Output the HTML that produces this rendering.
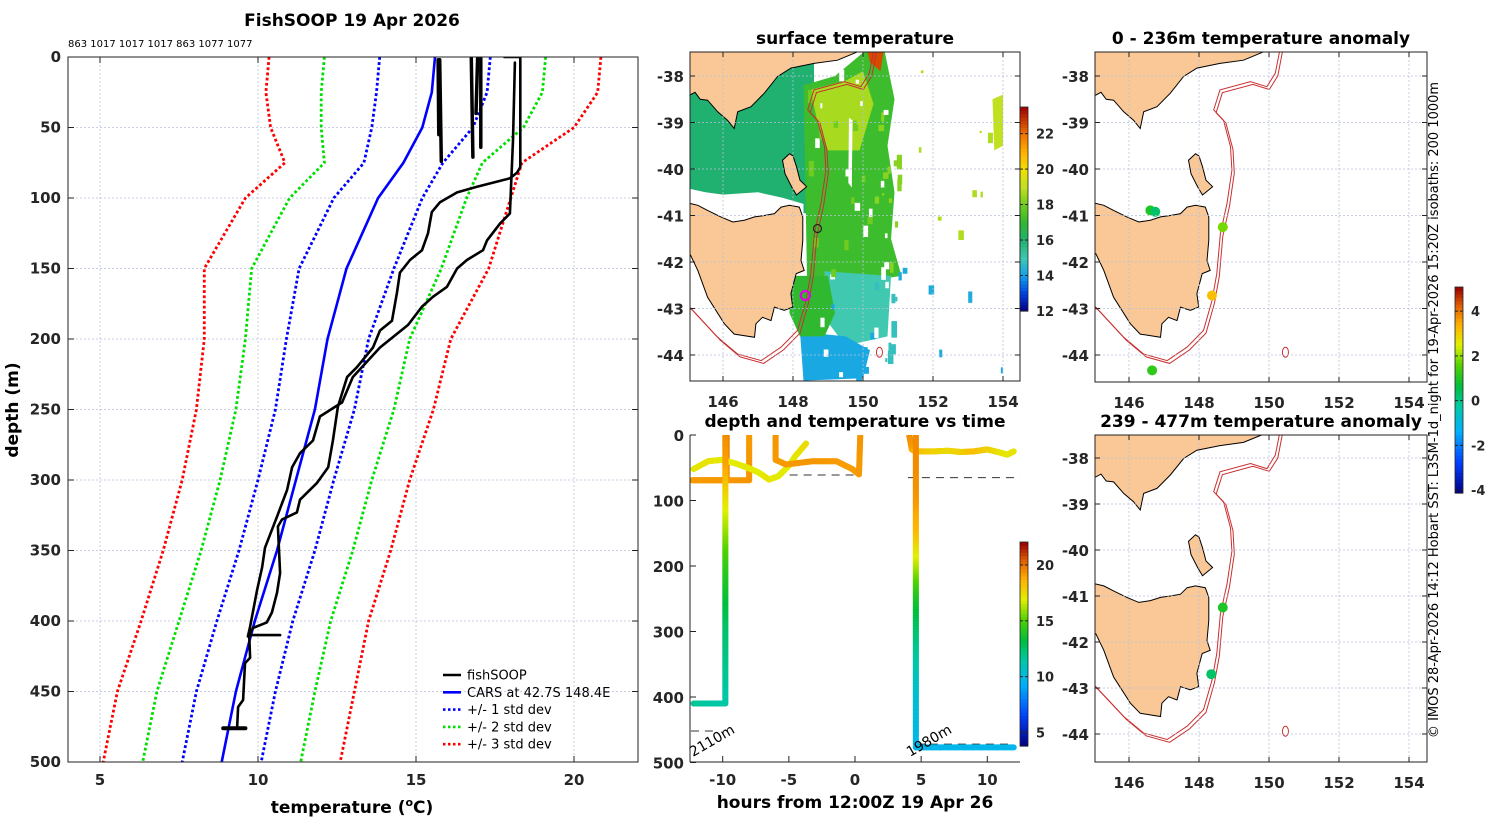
<!DOCTYPE html>
<html><head><meta charset="utf-8"><style>
html,body{margin:0;padding:0;background:#fff;}
svg{display:block;font-family:"DejaVu Sans","Liberation Sans",sans-serif;}
.tk{font-size:15px;font-weight:bold;fill:#262626;}
.ttl{font-size:17px;font-weight:bold;fill:#000;}
.lg{font-size:13px;fill:#000;}
</style></head><body>
<svg id="fig" width="1500" height="820" viewBox="0 0 1500 820" xmlns="http://www.w3.org/2000/svg">
<defs>
<clipPath id="cp1"><rect x="690" y="52" width="330" height="329"/></clipPath>
<clipPath id="cp2"><rect x="1095" y="52" width="332" height="330"/></clipPath>
<clipPath id="cp3"><rect x="1095" y="435" width="332" height="327"/></clipPath>
<clipPath id="cpP"><rect x="68" y="57" width="570" height="705"/></clipPath>
<clipPath id="cpT"><rect x="690" y="435" width="330" height="327"/></clipPath>
</defs>
<g id="root"></g>
</svg>
<script>
// ---------- profile data ----------
const profDepths=[0,25,50,75,100,125,150,175,200,250,300,350,400,450,500];
const carsMean=[15.6,15.5,15.2,14.6,13.8,13.3,12.8,12.5,12.2,11.8,11.2,10.6,9.9,9.3,8.85];
const carsSd=[1.75,1.75,1.6,1.25,1.4,1.45,1.5,1.4,1.3,1.25,1.2,1.2,1.2,1.25,1.25];
const fishL_d=[0,0,2,78,82,86,92,96,103,110,125,137,144,153,167,187,194,206,220,227,248,272,291,302,314,323,328,333,366,380,394,401,405,410,426,430,456,461,476];
const fishL_t=[17.8,18.3,18.3,18.3,18.2,17.97,16.93,16.3,15.76,15.5,15.38,15.19,14.81,14.49,14.4,14.24,13.86,13.64,13.13,12.82,12.53,12.37,12.22,11.87,11.33,11.23,10.76,10.63,10.7,10.6,10.44,10.28,9.84,9.72,9.75,9.59,9.53,9.37,9.34];
const fishR_d=[4,59,111,118,130,137,144,150,163,170,177,190,206,216,227,245,255,272,281,291,307,326,348,362,378,404,411];
const fishR_t=[18.13,18.07,17.97,17.66,17.25,17.12,16.61,16.3,15.98,15.54,15.19,14.75,13.86,13.45,13.0,12.66,11.96,11.74,11.33,11.08,10.92,10.6,10.22,10.13,9.97,9.75,9.68];
const shortProfiles=[{d:[2,74],t:[15.75,15.8]},{d:[2,55],t:[15.7,15.72]},{d:[1,71],t:[16.75,16.8]},{d:[1,64],t:[17.05,17.05]},{d:[1,40],t:[16.95,16.9]}];
const spike={d:[410,410],t:[9.7,10.7]};
const bottomBar={d:[476,476],t:[8.9,9.6]};
const topLabel="863 1017 1017 1017 863 1077 1077";
const xTicksP=[5,10,15,20];
const yTicksP=[0,50,100,150,200,250,300,350,400,450,500];
// ---------- time panel data ----------
const dive1Time=[-9.8,-9.8,-9.8,-9.8,-9.8,-9.8,-9.8,-9.8,-9.8];
const dive1Depth=[0,50,100,150,200,250,300,350,410];
const dive1Temp=[19.5,19,17.5,16,14.5,13.5,12.5,12,11.5];
const dive2Time=[4.6,4.6,4.6,4.6,4.6,4.6,4.6,4.6,4.6,4.6];
const dive2Depth=[0,50,100,150,200,250,300,350,400,477];
const dive2Temp=[19.5,19.5,19.3,18.5,16.5,14,12.5,11.5,10.5,9.8];
const bottom1Time=[-12.2,-9.8], bottom1Depth=[410,410], bottom1Temp=[11.8,11.5];
const bottom2Time=[4.6,12], bottom2Depth=[477,477], bottom2Temp=[9.8,9.8];
const surfYTime=[-12.2,-11.1,-10.1,-9.1,-8.1,-7.3,-6.5,-5.8,-5.0,-4.5,-3.7];
const surfYDepth=[52,40,38,43,50,57,68,63,47,32,13];
const surfYTemp=[17.2,17.3,17.2,17.0,17.2,17.0,17.3,17.1,17.0,17.2,17.5];
const surfO1Time=[-9.7,-9.7,-12.3,-8.0,-8.0];
const surfO1Depth=[0,69,69,69,0];
const surfO1Temp=[19.8,19.5,19.2,19.3,19.2];
const surfO2Time=[-6.0,-6.0,-5.2,-3.2,-1.4,-0.2,0.3,0.4];
const surfO2Depth=[0,38,45,40,40,52,60,0];
const surfO2Temp=[19.3,19.2,19.2,19.3,19.2,19.1,19.2,19.3];
const surf3Time=[4.1,4.3,4.6,6,7,8,9,10,11,11.5,12];
const surf3Depth=[0,22,25,25,24,26,25,22,27,30,25];
const surf3Temp=[19.5,19.2,18.5,17.8,17.6,17.8,18.4,17.9,17.4,17.2,17.3];
const dashTime=[[-12.4,-8],[-6,0.5],[4,12.6],[-12.4,-10.5],[4.6,12]];
const dashDepth=[70,61,65,452,472];
const xTicksT=[-10,-5,0,5,10];
const yTicksT=[0,100,200,300,400,500];
const cbTimeTicks=[5,10,15,20];
// ---------- map data ----------
const latTicks=[-38,-39,-40,-41,-42,-43,-44];
const lonTicks=[146,148,150,152,154];
const sstTicks=[12,14,16,18,20,22];
const anomTicks=[-4,-2,0,2,4];
const anomDots1Lon=[146.61,146.75,148.68,148.37,146.66];
const anomDots1Lat=[-40.89,-40.92,-41.25,-42.72,-44.33];
const anomDots1Val=[1.0,0.3,1.8,3.2,1.2];
const anomDots2Lon=[148.68,148.35];
const anomDots2Lat=[-41.25,-42.7];
const anomDots2Val=[1.0,0.3];

const tas=[[144.9,-40.74],[145.05,-40.74],[145.28,-40.78],[145.56,-40.89],[145.94,-41.03],[146.28,-41.14],[146.61,-41.1],[146.9,-41.03],[147.18,-41.0],[147.47,-40.96],[147.66,-40.82],[147.9,-40.78],[148.18,-40.82],[148.28,-41.03],[148.28,-41.53],[148.23,-41.97],[148.32,-42.18],[148.09,-42.25],[147.94,-42.68],[147.99,-42.97],[147.75,-43.04],[147.47,-42.97],[147.37,-43.26],[147.13,-43.19],[146.94,-43.33],[146.9,-43.62],[146.32,-43.55],[146.04,-43.33],[145.56,-42.76],[145.28,-42.18],[145.05,-41.82],[144.9,-41.82]];
const vic=[[144.9,-38.41],[145.05,-38.41],[145.2,-38.35],[145.35,-38.5],[145.56,-38.52],[145.85,-38.77],[146.13,-38.95],[146.32,-39.13],[146.42,-38.77],[146.8,-38.66],[147.18,-38.37],[147.56,-38.01],[147.94,-37.83],[148.6,-37.73],[149.27,-37.66],[149.75,-37.51],[149.94,-37.45],[149.94,-37.2],[144.9,-37.2]];
const flinders=[[147.9,-39.67],[148.0,-39.72],[148.1,-39.95],[148.2,-40.24],[148.39,-40.38],[148.1,-40.56],[147.96,-40.38],[147.77,-40.1],[147.7,-39.81]];
const kingIs=[[143.9,-39.6],[144.1,-39.6],[144.1,-40.1],[143.9,-40.1]];
const iso=[[150.32,-37.4],[150.18,-37.94],[149.94,-38.23],[149.47,-38.12],[148.6,-38.3],[148.42,-38.73],[148.7,-38.95],[148.9,-39.52],[148.94,-40.03],[148.8,-40.74],[148.61,-41.39],[148.51,-42.25],[148.37,-42.83],[148.13,-43.47],[147.66,-43.83],[147.09,-44.12],[146.42,-43.98],[145.85,-43.62],[145.05,-42.97],[144.9,-42.9]];
const sstRegions=[
 {v:16.0,p:[[144.9,-37.3],[148.6,-37.3],[148.6,-40.95],[144.9,-40.95]]},
 {v:99,p:[[144.9,-40.4],[145.5,-40.5],[146,-40.55],[147,-40.5],[147.7,-40.62],[148.3,-40.75],[148.3,-40.98],[144.9,-40.98]]},
 {v:17.2,p:[[148.3,-38.2],[149.2,-38.0],[150,-37.5],[150.6,-37.4],[150.9,-38.5],[150.7,-39.5],[150.9,-40.5],[150.8,-41.5],[151.1,-42.3],[150.2,-42.4],[148.4,-42.3]]},
 {v:18.7,p:[[148.5,-38.3],[149.5,-38.1],[150.0,-37.9],[150.3,-38.6],[149.9,-39.6],[149.0,-39.6],[148.7,-39.0]]},
 {v:15.0,p:[[148.9,-42.2],[150.8,-42.3],[150.7,-43.6],[149.5,-43.8],[148.9,-43.2]]},
 {v:14.2,p:[[148.2,-43.5],[149.5,-43.6],[150.2,-43.9],[150.0,-44.5],[148.3,-44.55]]},
 {v:17.0,p:[[147.9,-42.3],[149.0,-42.3],[149.2,-43.1],[148.9,-43.6],[148.2,-43.6],[147.9,-43.1]]},
 {v:22.5,p:[[150.1,-37.4],[150.6,-37.4],[150.5,-37.9],[150.2,-37.7]]},
 {v:19.0,p:[[153.7,-38.5],[154.0,-38.4],[154.0,-39.5],[153.75,-39.6]]},
 {v:99,p:[[149.6,-38.9],[149.7,-38.95],[149.68,-40.4],[149.58,-40.3]]},
 {v:99,p:[[145.3,-43.1],[146.0,-43.5],[146.9,-43.65],[147.6,-43.3],[148.0,-43.5],[147.8,-44.6],[144.9,-44.6],[144.9,-43.0]]}
];

// ---------- helpers ----------
const NS="http://www.w3.org/2000/svg";
const root=document.getElementById('root');
function el(tag,attrs,parent){const e=document.createElementNS(NS,tag);for(const k in attrs)e.setAttribute(k,attrs[k]);(parent||root).appendChild(e);return e;}
function mk(st){return function(t){t=Math.max(0,Math.min(1,t));for(let i=1;i<st.length;i++){if(t<=st[i][0]){const a=st[i-1],b=st[i];const f=(t-a[0])/(b[0]-a[0]);const c=a[1].map((v,j)=>Math.round(v+(b[1][j]-v)*f));return `rgb(${c[0]},${c[1]},${c[2]})`;}}const l=st[st.length-1][1];return `rgb(${l[0]},${l[1]},${l[2]})`;};}
const cmap=mk([[0,[0,0,128]],[0.15,[0,64,255]],[0.3,[0,176,255]],[0.42,[0,200,170]],[0.52,[0,190,60]],[0.62,[80,210,0]],[0.72,[225,240,0]],[0.82,[255,175,0]],[0.91,[225,95,0]],[1,[150,0,0]]]);
// SST colour scale 12..23.5
const sstStops=[[12,[0,0,128]],[13,[0,64,224]],[14,[16,160,240]],[15,[64,200,176]],[16,[32,176,112]],[17,[48,184,48]],[18,[112,204,32]],[19,[192,224,32]],[20,[240,224,0]],[21,[255,176,0]],[22,[240,112,0]],[23.5,[160,0,0]]];
const sstCmap=mk(sstStops.map(s=>[(s[0]-12)/11.5,s[1]]));
function text(x,y,s,cls,anchor,parent,extra){const t=el('text',Object.assign({x:x,y:y,class:cls,'text-anchor':anchor||'middle'},extra||{}),parent);t.textContent=s;return t;}

// ================= PROFILE PANEL =================
const px=t=>100+(t-5)*31.6, py=d=>57+d*1.41;
const gP=el('g',{});


yTicksP.forEach(d=>{el('line',{x1:68,x2:638,y1:py(d),y2:py(d),stroke:'#b8c0dc','stroke-width':0.8,'stroke-dasharray':'2,2'},gP);
 el('line',{x1:68,x2:74,y1:py(d),y2:py(d),stroke:'#222'},gP);el('line',{x1:632,x2:638,y1:py(d),y2:py(d),stroke:'#222'},gP);
 const t=text(61,py(d)+5,String(d),'tk','end',gP);});
xTicksP.forEach(v=>{el('line',{x1:px(v),x2:px(v),y1:57,y2:762,stroke:'#b8c0dc','stroke-width':0.8,'stroke-dasharray':'2,2'},gP);
 el('line',{x1:px(v),x2:px(v),y1:57,y2:63,stroke:'#222'},gP);el('line',{x1:px(v),x2:px(v),y1:756,y2:762,stroke:'#222'},gP);
 const t=text(px(v),785,String(v),'tk','middle',gP);});
const gPl=el('g',{'clip-path':'url(#cpP)'},gP);
function ptsProf(ds,ts){return ds.map((d,i)=>px(ts[i]).toFixed(1)+','+py(d).toFixed(1)).join(' ');}
[[3,'#ff0000'],[2,'#00e000'],[1,'#0000ff']].forEach(([k,c])=>{
 [-1,1].forEach(s=>{const l=el('polyline',{points:ptsProf(profDepths,carsMean.map((m,i)=>m+s*k*carsSd[i])),fill:'none',stroke:c,'stroke-width':2.8,'stroke-dasharray':'2.8,2.4'},gPl);
 });});
const cars=el('polyline',{points:ptsProf(profDepths,carsMean),fill:'none',stroke:'#0000ff','stroke-width':2.6},gPl);

[[fishL_d,fishL_t,2.6],[fishR_d,fishR_t,2.6]].concat(shortProfiles.map(s=>[s.d,s.t,3.5])).concat([[spike.d,spike.t,2.6],[bottomBar.d,bottomBar.t,4]]).forEach(([d,t,w])=>{
 const l=el('polyline',{points:ptsProf(d,t),fill:'none',stroke:'#000','stroke-width':w,'stroke-linejoin':'round','stroke-linecap':'round'},gPl);
 });
el('rect',{x:68,y:57,width:570,height:705,fill:'none',stroke:'#222','stroke-width':1},gP);
const tP=text(352,26,'FishSOOP 19 Apr 2026','ttl','middle',gP);
const tl=el('text',{x:68,y:47,style:'font-size:10px;fill:#000'},gP);tl.textContent=topLabel;

const yl=el('text',{x:18,y:410,class:'ttl','text-anchor':'middle',transform:'rotate(-90 18 410)'},gP);yl.textContent='depth (m)';

const xl=el('text',{x:352,y:813,class:'ttl','text-anchor':'middle'},gP);

xl.innerHTML='temperature (<tspan dy="-7" style="font-size:11px">o</tspan><tspan dy="7">C)</tspan>';
// legend
const lgd=el('g',{},gP);

const legItems=[['fishSOOP','#000',''],['CARS at 42.7S 148.4E','#0000ff',''],['+/- 1 std dev','#0000ff','2.5,2.5'],['+/- 2 std dev','#00e000','2.5,2.5'],['+/- 3 std dev','#ff0000','2.5,2.5']];
legItems.forEach((it,i)=>{const y=675+i*17.3;const g=el('g',{},lgd);
 
 el('line',{x1:443,x2:461,y1:y,y2:y,stroke:it[1],'stroke-width':2.6,'stroke-dasharray':it[2]},g);
 text(467,y+4.5,it[0],'lg','start',g);});

// ================= MAPS =================
function makeMap(name,x146,y38,sy,frame,clip,title,titleY){
 const g=el('g',{});
 const X=lon=>x146+(lon-146)*35, Y=lat=>y38+(-38-lat)*sy;
 const P=arr=>arr.map(p=>X(p[0]).toFixed(1)+','+Y(p[1]).toFixed(1)).join(' ');
 const gc=el('g',{'clip-path':'url(#'+clip+')'},g);
 return {g,gc,X,Y,P,frame,title,titleY};
}
function finishMap(m){
 const [x0,y0,x1,y1]=m.frame;const g=m.g,gc=m.gc;
 latTicks.forEach(l=>{const y=m.Y(l);el('line',{x1:x0,x2:x1,y1:y,y2:y,stroke:'#b8c0dc','stroke-width':0.8,'stroke-dasharray':'2,2'},gc);
  el('line',{x1:x0,x2:x0+5,y1:y,y2:y,stroke:'#222'},g);el('line',{x1:x1-5,x2:x1,y1:y,y2:y,stroke:'#222'},g);
  const t=text(x0-6,y+6,String(l),'tk','end',g);});
 lonTicks.forEach(l=>{const x=m.X(l);el('line',{x1:x,x2:x,y1:y0,y2:y1,stroke:'#b8c0dc','stroke-width':0.8,'stroke-dasharray':'2,2'},gc);
  el('line',{x1:x,x2:x,y1:y1-5,y2:y1,stroke:'#222'},g);el('line',{x1:x,x2:x,y1:y0,y2:y0+5,stroke:'#222'},g);
  if(m.showLon){const t=text(x,y1+26,String(l),'tk','middle',g);}});
 el('rect',{x:x0,y:y0,width:x1-x0,height:y1-y0,fill:'none',stroke:'#222'},g);
 const t=text((x0+x1)/2,m.titleY,m.title,'ttl','middle',g);
}
function land(m){
 [tas,vic,flinders,kingIs].forEach(p=>{const l=el('polygon',{points:m.P(p),fill:'#f9c896',stroke:'#000','stroke-width':1},m.gc);
  });
 [[0,0],[0.07,-0.06]].forEach(o=>{const l=el('polyline',{points:m.P(iso.map(p=>[p[0]+o[0],p[1]+o[1]])),fill:'none',stroke:'#c83030','stroke-width':1},m.gc);
  });
 el('ellipse',{cx:m.X(150.47),cy:m.Y(-43.94),rx:3,ry:5,fill:'none',stroke:'#c83030','stroke-width':1},m.gc);
}
// SST map
const m1=makeMap('sst-map',723,76,46.5,[690,52,1020,381],'cp1','surface temperature',44);
m1.showLon=true;
const sstT=v=>(v-12)/11.5;
sstRegions.forEach(r=>{const l=el('polygon',{points:m1.P(r.p),fill:r.v>50?'#fff':sstCmap(sstT(r.v)),stroke:'none'},m1.gc);
 });
// speckle texture (decorative)
let seed=12345;const rnd=()=>{seed=(seed*1103515245+12345)%2147483648;return seed/2147483648;};
for(let i=0;i<260;i++){const lon=148.4+rnd()*5.6,lat=-37.6-rnd()*6.9;let f;
 if(lon>151.0){if(rnd()<0.85)continue;f=sstCmap(sstT(lat>-41.5?18.8:14.3));}
 else if(lon>150.3){f=rnd()<0.4?'#fff':sstCmap(sstT(lat>-42.3?18.3:14.8));}
 else {if(rnd()<0.6)continue;f=rnd()<0.6?'#fff':sstCmap(sstT(lat>-42.3?18.0:14.2));}
 const s=2+rnd()*4;el('rect',{x:m1.X(lon),y:m1.Y(lat),width:s,height:s*(1+rnd()*2),fill:f},m1.gc);}
land(m1);
el('circle',{cx:m1.X(148.7),cy:m1.Y(-41.28),r:4,fill:'none',stroke:'#222','stroke-width':1.2},m1.gc);
const ship=el('circle',{cx:m1.X(148.35),cy:m1.Y(-42.72),r:4.5,fill:'none',stroke:'#e000e0','stroke-width':2.2},m1.gc);

finishMap(m1);
// colorbars
function colorbar(name,x,y0,y1,vmin,vmax,ticks,cm){
 const g=el('g',{});
 const n=60;for(let i=0;i<n;i++){const t0=i/n;el('rect',{x:x,y:y1-(i+1)*(y1-y0)/n,width:8,height:(y1-y0)/n+0.6,fill:cm(t0+0.5/n)},g);}
 el('rect',{x:x,y:y0,width:8,height:y1-y0,fill:'none',stroke:'#222','stroke-width':0.8},g);
 ticks.forEach(v=>{const y=y1-(v-vmin)/(vmax-vmin)*(y1-y0);el('line',{x1:x,x2:x+3,y1:y,y2:y,stroke:'#222'},g);el('line',{x1:x+5,x2:x+8,y1:y,y2:y,stroke:'#222'},g);
  text(x+16,y+5,String(v),'tk','start',g).setAttribute('style','font-size:13px');});
}
colorbar('sst-colorbar',1020,107,311,12,23.5,sstTicks,sstCmap);
// anomaly maps
const anT=v=>(v+4.13)/9.21;
const m2=makeMap('anomaly-map-upper',1129,76,46.5,[1095,52,1427,382],'cp2','0 - 236m temperature anomaly',44);
m2.showLon=true;land(m2);
anomDots1Lon.forEach((lon,i)=>{const c=el('circle',{cx:m2.X(lon),cy:m2.Y(anomDots1Lat[i]),r:5,fill:cmap(anT(anomDots1Val[i]))},m2.gc);
 });
finishMap(m2);
const m3=makeMap('anomaly-map-lower',1129,458,46,[1095,435,1427,762],'cp3','239 - 477m temperature anomaly',427);
m3.showLon=true;land(m3);
anomDots2Lon.forEach((lon,i)=>{const c=el('circle',{cx:m3.X(lon),cy:m3.Y(anomDots2Lat[i]),r:5,fill:cmap(anT(anomDots2Val[i]))},m3.gc);
 });
finishMap(m3);
colorbar('anomaly-colorbar',1455,287,493,-4.13,5.08,anomTicks,cmap);
const cr=el('text',{x:1438,y:410,'text-anchor':'middle',transform:'rotate(-90 1438 410)',style:'font-size:13px;fill:#000'});
cr.textContent='© IMOS 28-Apr-2026 14:12 Hobart SST: L3SM-1d_night for 19-Apr-2026 15:20Z isobaths: 200  1000m';


// ================= TIME PANEL =================
const tx=h=>722.7+(h+10)*13.23, ty=d=>435+d*0.655;
const gT=el('g',{});
yTicksT.forEach(d=>{el('line',{x1:690,x2:696,y1:ty(d),y2:ty(d),stroke:'#222'},gT);
 const t=text(684,ty(d)+6,String(d),'tk','end',gT);});
xTicksT.forEach(h=>{el('line',{x1:tx(h),x2:tx(h),y1:756,y2:762,stroke:'#222'},gT);
 const t=text(tx(h),785,String(h),'tk','middle',gT);});
const gTc=el('g',{'clip-path':'url(#cpT)'},gT);
const tmT=v=>(v-3.8)/18.25;
dashTime.forEach((r,i)=>el('line',{x1:tx(r[0]),x2:tx(r[1]),y1:ty(dashDepth[i]),y2:ty(dashDepth[i]),stroke:'#333','stroke-width':1,'stroke-dasharray':'8,6'},gTc));
function trace(ts,ds,vs,name){const g=el('g',{},gTc);
 for(let i=1;i<ts.length;i++){const n=12;for(let k=0;k<n;k++){const f0=k/n,f1=(k+1)/n;
  const a=[ts[i-1]+(ts[i]-ts[i-1])*f0,ds[i-1]+(ds[i]-ds[i-1])*f0],b=[ts[i-1]+(ts[i]-ts[i-1])*f1,ds[i-1]+(ds[i]-ds[i-1])*f1];
  const v=vs[i-1]+(vs[i]-vs[i-1])*(f0+f1)/2;
  el('line',{x1:tx(a[0]),y1:ty(a[1]),x2:tx(b[0]),y2:ty(b[1]),stroke:cmap(tmT(v)),'stroke-width':6,'stroke-linecap':'round'},g);}}}
trace(surfO1Time,surfO1Depth,surfO1Temp,'surface-track-1');
trace(surfYTime,surfYDepth,surfYTemp,'surface-track-2');
trace(surfO2Time,surfO2Depth,surfO2Temp,'surface-track-3');
trace(dive1Time,dive1Depth,dive1Temp,'dive-1');
trace(bottom1Time,bottom1Depth,bottom1Temp,'dive-1-bottom');
trace(surf3Time,surf3Depth,surf3Temp,'surface-track-4');
trace(dive2Time,dive2Depth,dive2Temp,'dive-2');
trace(bottom2Time,bottom2Depth,bottom2Temp,'dive-2-bottom');
[['2110m',693,757],['1980m',910,757]].forEach(a=>{const t=el('text',{x:a[1],y:a[2],transform:`rotate(-30 ${a[1]} ${a[2]})`,style:'font-size:14px;fill:#000'},gT);t.textContent=a[0];
 });
el('line',{x1:690,x2:690,y1:435,y2:762,stroke:'#222'},gT);
el('line',{x1:690,x2:1020,y1:762,y2:762,stroke:'#222'},gT);
const tT=text(855,427,'depth and temperature vs time','ttl','middle',gT);
const tX=text(855,808,'hours from 12:00Z 19 Apr 26','ttl','middle',gT);
colorbar('time-colorbar',1020,542,746,3.8,22.05,cbTimeTicks,cmap);
</script>
</body></html>
